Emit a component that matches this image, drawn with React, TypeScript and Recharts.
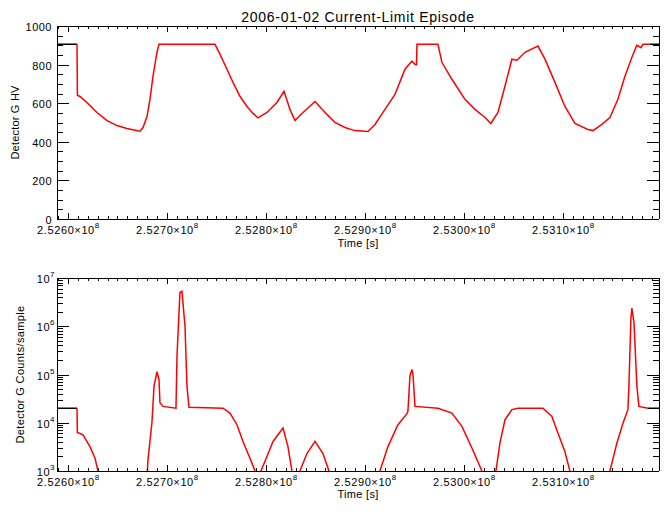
import React from 'react';
import { LineChart, Line, XAxis, YAxis } from 'recharts';

const title = '2006-01-02 Current-Limit Episode';
const timeLabel = 'Time [s]';
const hvLabel = 'Detector G HV';
const countsLabel = 'Detector G Counts/sample';

// time axis (seconds)
const timeDomain = [252588900, 253197000];
const timeMajor = [252600000, 252700000, 252800000, 252900000, 253000000, 253100000];
const timeMinorStep = 10000;

const hvMajor = [0, 200, 400, 600, 800, 1000];
const hvMinorStep = 50;

const countsMajor = [1e3, 1e4, 1e5, 1e6, 1e7];

// detector HV, episode (red)
const hvTime = [
  252609100, 252609500, 252612100, 252619200, 252629300, 252639400, 252649500, 252659600,
  252672700, 252675800, 252679800, 252682800, 252685900, 252689900, 252691900, 252748500,
  252753500, 252760600, 252766700, 252773700, 252780800, 252786900, 252791900, 252801000,
  252811100, 252818200, 252824200, 252829300, 252837400, 252849500, 252861600, 252869700,
  252879800, 252889900, 252903000, 252910100, 252920200, 252930300, 252940400, 252947400,
  252950500, 252952000, 252952500, 252973700, 252977700, 252987800, 253001000, 253011100,
  253021200, 253027200, 253034300, 253041400, 253048400, 253053500, 253061600, 253074700,
  253081800, 253091900, 253102000, 253112100, 253125200, 253130300, 253139300, 253147400,
  253155500, 253162600, 253169600, 253174700, 253178700, 253180700, 253187800,
];
const hvValue = [
  905, 641, 635, 604, 552, 510, 484, 469,
  455, 474, 531, 620, 740, 864, 905, 905,
  854, 776, 708, 636, 583, 547, 524, 552,
  604, 662, 568, 510, 552, 609, 542, 500,
  474, 458, 453, 490, 568, 646, 776, 818,
  802, 800, 905, 905, 812, 724, 620, 568,
  526, 495, 552, 688, 828, 823, 864, 896,
  828, 708, 583, 495, 464, 458, 490, 526,
  620, 740, 838, 901, 888, 905, 905,
];

// detector HV outside the episode (black); null breaks the line
const hvBlackTime = [252588900, 252609100, 252900000, 253187800, 253197000];
const hvBlackValue = [905, 905, null, 905, 905];

// detector counts, episode (red); values under 1e3 fall off the log axis
const countsTime = [
  252609100, 252609500, 252615200, 252622200, 252627300, 252630300, 252632300, 252678800,
  252680800, 252684800, 252686900, 252689900, 252691900, 252692900, 252696000, 252709100,
  252710100, 252713100, 252715100, 252718200, 252720200, 252722200, 252756600, 252763600,
  252770700, 252776800, 252783800, 252788900, 252790900, 252792900, 252794900, 252801000,
  252807100, 252817200, 252822200, 252826200, 252828200, 252832300, 252834300, 252841400,
  252849500, 252857600, 252863600, 252865600, 252913100, 252915100, 252923200, 252933300,
  252942400, 252943400, 252945400, 252947400, 252948500, 252950500, 252973700, 252987800,
  252997900, 253008000, 253018100, 253020100, 253030300, 253032300, 253036300, 253041400,
  253048400, 253054500, 253079800, 253088800, 253094900, 253102000, 253107000, 253109000,
  253145400, 253147400, 253154500, 253160600, 253165600, 253166600, 253168600, 253169600,
  253171700, 253174700, 253176700, 253185800,
];
const countsValue = [
  20000, 6300, 5600, 3200, 1840, 1000, 300, 300,
  1700, 10000, 57000, 114000, 79000, 26000, 21800, 20000,
  240000, 5000000, 5300000, 1000000, 57000, 21000, 20000, 15900,
  9100, 4100, 1840, 1000, 300, 300, 1000, 2000,
  4100, 7800, 3200, 1000, 300, 300, 1000, 2300,
  4100, 2300, 1000, 300, 300, 1000, 3200, 9100,
  15400, 17300, 92000, 127000, 100000, 21800, 20000, 15900,
  8400, 3000, 1000, 300, 300, 1000, 3800, 11500,
  18700, 20000, 20000, 13500, 6100, 2500, 1000, 300,
  300, 1000, 3800, 9800, 18700, 57000, 1400000, 2370000,
  1200000, 57000, 21800, 20000,
];

const countsBlackTime = [252588900, 252609100, 252900000, 253185800, 253197000];
const countsBlackValue = [20000, 20000, null, 20000, 20000];

const zip = (ts: number[], vs: (number | null)[]) => ts.map((t, i) => ({ t, v: vs[i] }));

const hvData = zip(hvTime, hvValue);
const hvBlack = zip(hvBlackTime, hvBlackValue);
const countsData = zip(countsTime, countsValue);
const countsBlack = zip(countsBlackTime, countsBlackValue);

const timeTicks: number[] = [];
for (let t = 252590000; t <= timeDomain[1]; t += timeMinorStep) timeTicks.push(t);
const hvTicks: number[] = [];
for (let v = 0; v <= 1000; v += hvMinorStep) hvTicks.push(v);
const countsTicks: number[] = [];
for (let e = 3; e < 7; e++) for (let m = 1; m < 10; m++) countsTicks.push(m * Math.pow(10, e));
countsTicks.push(1e7);

const FONT = '"Liberation Sans", Arial, sans-serif';
const W = 670;

const isCountsMajor = (v: number) => countsMajor.some((m) => Math.abs(m - v) < 1e-6 * m);
const px = (n: number) => Math.round(Number(n)) + 0.5;

const tickStroke = { stroke: '#000', strokeWidth: 1, fill: 'none', shapeRendering: 'crispEdges' } as const;

// side: 'bottom' draws ticks up with labels, 'top' draws ticks down only
const timeTick = (side: string) => (p: any) => {
  const x = px(p.x);
  const y = Number(p.y);
  const v = p.payload.value;
  const major = timeMajor.includes(v);
  const len = major ? 6 : 3;
  if (side === 'top') {
    return <path d={`M${x},${y}V${y + len}`} {...tickStroke} />;
  }
  return (
    <g>
      <path d={`M${x},${y}V${y - len}`} {...tickStroke} />
      {major && (
        <text x={x} y={y + 15} textAnchor="middle" fontSize={11} fontFamily={FONT} fill="#000" stroke="none" letterSpacing={0.6}>
          <tspan>{(v / 1e8).toFixed(4)}×10</tspan>
          <tspan dy={-6} fontSize={8}>8</tspan>
        </text>
      )}
    </g>
  );
};

const hvTick = (side: string) => (p: any) => {
  const x = Number(p.x);
  const y = px(p.y);
  const v = p.payload.value;
  const major = hvMajor.includes(v);
  const len = major ? 12 : 6;
  if (side === 'right') {
    return <path d={`M${x},${y}H${x - len}`} {...tickStroke} />;
  }
  return (
    <g>
      <path d={`M${x},${y}H${x + len}`} {...tickStroke} />
      {major && (
        <text x={x - 5} y={y + 4} textAnchor="end" fontSize={11} fontFamily={FONT} fill="#000" stroke="none" letterSpacing={0.5}>
          {v}
        </text>
      )}
    </g>
  );
};

const countsTick = (side: string) => (p: any) => {
  const x = Number(p.x);
  const y = px(p.y);
  const v = p.payload.value;
  const major = isCountsMajor(v);
  const len = major ? 12 : 6;
  if (side === 'right') {
    return <path d={`M${x},${y}H${x - len}`} {...tickStroke} />;
  }
  return (
    <g>
      <path d={`M${x},${y}H${x + len}`} {...tickStroke} />
      {major && (
        <text x={x - 2} y={y + 4} textAnchor="end" fontSize={11} fontFamily={FONT} fill="#000" stroke="none" letterSpacing={0.5}>
          <tspan>10</tspan>
          <tspan dy={-6} fontSize={8}>{Math.round(Math.log10(v))}</tspan>
        </text>
      )}
    </g>
  );
};

const axisLine = { stroke: '#000', strokeWidth: 1, shapeRendering: 'crispEdges' };

export default function App() {
  return (
    <div style={{ position: 'absolute', left: 0, top: 0, width: W, height: 511, background: '#fff' }}>
      <div style={{ position: 'absolute', left: 0, top: 0 }}>
        <LineChart width={W} height={255} margin={{ top: 25, right: 10, bottom: 0, left: 0 }}>
          <XAxis
            dataKey="t"
            type="number"
            domain={timeDomain}
            allowDataOverflow
            ticks={timeTicks}
            interval={0}
            height={36}
            tickSize={0}
            tickMargin={0}
            axisLine={axisLine}
            tickLine={false}
            tick={timeTick('bottom')}
          />
          <XAxis
            xAxisId="top"
            orientation="top"
            dataKey="t"
            type="number"
            domain={timeDomain}
            allowDataOverflow
            ticks={timeTicks}
            interval={0}
            height={1}
            tickSize={0}
            tickMargin={0}
            axisLine={axisLine}
            tickLine={false}
            tick={timeTick('top')}
          />
          <YAxis
            type="number"
            domain={[0, 1000]}
            allowDataOverflow
            ticks={hvTicks}
            interval={0}
            width={57}
            tickSize={0}
            tickMargin={0}
            axisLine={axisLine}
            tickLine={false}
            tick={hvTick('left')}
          />
          <YAxis
            yAxisId="right"
            orientation="right"
            type="number"
            domain={[0, 1000]}
            allowDataOverflow
            ticks={hvTicks}
            interval={0}
            width={1}
            tickSize={0}
            tickMargin={0}
            axisLine={axisLine}
            tickLine={false}
            tick={hvTick('right')}
          />
          <Line data={hvBlack} dataKey="v" stroke="#000" strokeWidth={1.5} dot={false} isAnimationActive={false} />
          <Line data={hvData} dataKey="v" stroke="#ff0000" strokeWidth={1.5} dot={false} isAnimationActive={false} />
        </LineChart>
      </div>
      <div style={{ position: 'absolute', left: 0, top: 255 }}>
        <LineChart width={W} height={256} margin={{ top: 22, right: 10, bottom: 0, left: 0 }}>
          <XAxis
            dataKey="t"
            type="number"
            domain={timeDomain}
            allowDataOverflow
            ticks={timeTicks}
            interval={0}
            height={40}
            tickSize={0}
            tickMargin={0}
            axisLine={axisLine}
            tickLine={false}
            tick={timeTick('bottom')}
          />
          <XAxis
            xAxisId="top"
            orientation="top"
            dataKey="t"
            type="number"
            domain={timeDomain}
            allowDataOverflow
            ticks={timeTicks}
            interval={0}
            height={1}
            tickSize={0}
            tickMargin={0}
            axisLine={axisLine}
            tickLine={false}
            tick={timeTick('top')}
          />
          <YAxis
            type="number"
            scale="log"
            domain={[1e3, 1e7]}
            allowDataOverflow
            ticks={countsTicks}
            interval={0}
            width={57}
            tickSize={0}
            tickMargin={0}
            axisLine={axisLine}
            tickLine={false}
            tick={countsTick('left')}
          />
          <YAxis
            yAxisId="right"
            orientation="right"
            type="number"
            scale="log"
            domain={[1e3, 1e7]}
            allowDataOverflow
            ticks={countsTicks}
            interval={0}
            width={1}
            tickSize={0}
            tickMargin={0}
            axisLine={axisLine}
            tickLine={false}
            tick={countsTick('right')}
          />
          <Line data={countsBlack} dataKey="v" stroke="#000" strokeWidth={1.5} dot={false} isAnimationActive={false} />
          <Line data={countsData} dataKey="v" stroke="#ff0000" strokeWidth={1.5} dot={false} isAnimationActive={false} />
        </LineChart>
      </div>
      <svg
        width={W}
        height={511}
        style={{ position: 'absolute', left: 0, top: 0, pointerEvents: 'none' }}
        fontFamily={FONT}
        fill="#000"
      >
        <text x={358} y={21.5} textAnchor="middle" fontSize={14} letterSpacing={0.7}>
          {title}
        </text>
        <text x={358} y={246.5} textAnchor="middle" fontSize={11} letterSpacing={0.3}>
          {timeLabel}
        </text>
        <text x={358} y={498} textAnchor="middle" fontSize={11} letterSpacing={0.3}>
          {timeLabel}
        </text>
        <text transform="translate(19,122.5) rotate(-90)" textAnchor="middle" fontSize={11} letterSpacing={0.2}>
          {hvLabel}
        </text>
        <text transform="translate(23.5,374.5) rotate(-90)" textAnchor="middle" fontSize={11} letterSpacing={0.35}>
          {countsLabel}
        </text>
      </svg>
    </div>
  );
}
